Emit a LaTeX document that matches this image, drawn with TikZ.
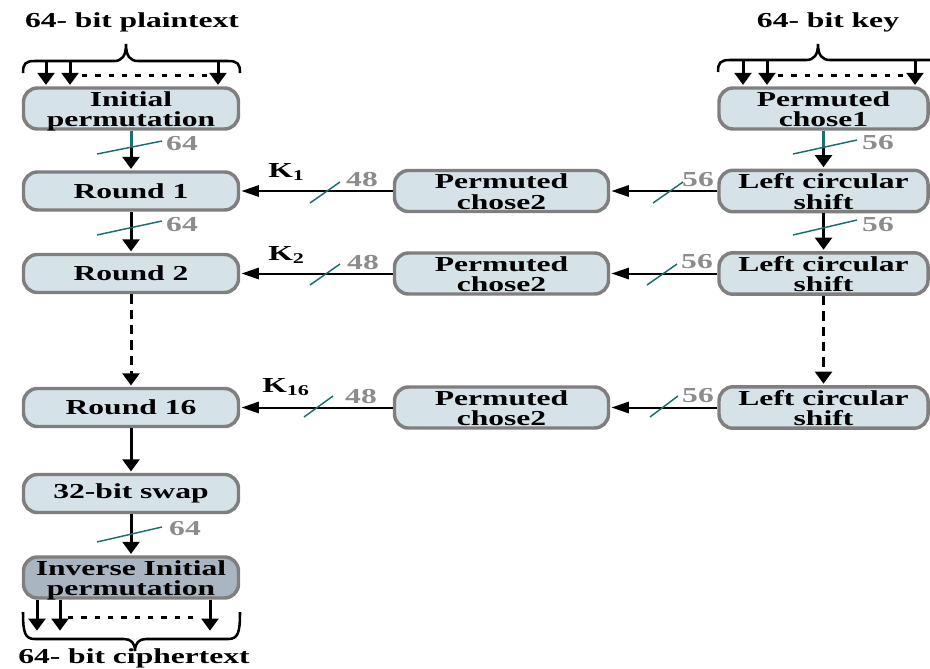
\documentclass[tikz,border=0pt]{standalone}
\usepackage{fontspec}
\setmainfont{Liberation Serif}
\usepackage{graphicx}
\usetikzlibrary{arrows.meta}
\definecolor{boxfill}{HTML}{D5E2E8}
\definecolor{boxfilldark}{HTML}{A9B5C0}
\definecolor{boxline}{HTML}{7F7F7F}
\definecolor{numgray}{HTML}{8C8C8C}
\definecolor{tealline}{HTML}{1A6E6E}
\newcommand\bfnt{\fontsize{16}{14.25}\selectfont\bfseries}
\newcommand\sx[1]{\scalebox{1.48}[1]{#1}}
\newcommand\two[2]{\raisebox{-2.5pt}[\height][\depth]{\sx{\begin{tabular}{@{}c@{}}#1\\#2\end{tabular}}}}
\tikzset{
  box/.style={draw=boxline, line width=2.6pt, rounded corners=10.5pt, fill=boxfill,
    minimum height=28.5pt, inner sep=0pt, font=\bfnt, text=black},
  lbox/.style={box, minimum width=161.25pt},
  mbox/.style={box, minimum width=160.5pt},
  rbox/.style={box, minimum width=156.75pt},
  vconn/.style={line width=2.25pt, -{Triangle[length=9pt,width=12.5pt]}, shorten >=1pt},
  vdash/.style={vconn, dash pattern=on 7pt off 4.5pt},
  hconn/.style={line width=1.5pt, -{Triangle[length=13pt,width=8.5pt]}, shorten >=1pt},
  brace/.style={line width=1.9pt},
  dots/.style={line width=2.25pt, dash pattern=on 4pt off 6pt},
  slash/.style={draw=tealline, line width=1.1pt},
  num/.style={font=\bfnt, text=numgray, inner sep=0pt},
  klab/.style={font=\bfnt, inner sep=0pt, anchor=base west},
  title/.style={font=\bfnt, inner sep=0pt, anchor=base},
}
\begin{document}
\begin{tikzpicture}[x=0.75pt,y=-0.75pt]
\useasboundingbox (0,0) rectangle (930,668);

% titles
\node[title] (tpt) at (132,27) {\sx{64- bit plaintext}};
\node[title] (tkey) at (828,27) {\sx{64- bit key}};
\node[title] (tct) at (134,663) {\sx{64- bit ciphertext}};

% left column
\node[lbox] (ip) at (131,108.5) {\two{Initial}{permutation}};
\node[lbox] (r1) at (131,191) {\sx{Round 1}};
\node[lbox] (r2) at (131,273.5) {\sx{Round 2}};
\node[lbox] (r16) at (131,407.5) {\sx{Round 16}};
\node[lbox] (sw) at (131,493.5) {\sx{32-bit swap}};
\node[lbox, fill=boxfilldark] (iip) at (131,577.5) {\two{Inverse Initial}{permutation}};

% middle column
\node[mbox] (p1) at (501.5,191) {\two{Permuted}{chose2}};
\node[mbox] (p2) at (501.5,273.5) {\two{Permuted}{chose2}};
\node[mbox] (p16) at (501.5,407.5) {\two{Permuted}{chose2}};

% right column
\node[rbox] (pc1) at (823.5,108.5) {\two{Permuted}{chose1}};
\node[rbox] (l1) at (823.5,191) {\two{Left circular}{shift}};
\node[rbox] (l2) at (823.5,273.5) {\two{Left circular}{shift}};
\node[rbox] (l16) at (823.5,407.5) {\two{Left circular}{shift}};

% top-left brace and input arrows
\draw[brace] (23,73) .. controls (23,64) and (25,61) .. (35,61) -- (114,61)
  .. controls (122,61) and (126,56) .. (126,44)
  .. controls (126,56) and (130,61) .. (138,61) -- (228,61)
  .. controls (238,61) and (240,64) .. (240,73);
\coordinate (ta1) at (46,61);
\coordinate (ta2) at (70,61);
\coordinate (ta3) at (218,61);
\draw[vconn] (ta1) -- (ta1 |- ip.north);
\draw[vconn] (ta2) -- (ta2 |- ip.north);
\draw[vconn] (ta3) -- (ta3 |- ip.north);
\coordinate (td1) at (82,75);
\coordinate (td2) at (210,75);
\draw[dots] (td1) -- (td2);

% top-right brace and input arrows
\draw[brace] (718,72) .. controls (718,63) and (720,60) .. (730,60) -- (806,60)
  .. controls (814,60) and (818,55) .. (818,44)
  .. controls (818,55) and (822,60) .. (830,60) -- (930,60)
  .. controls (940,60) and (942,63) .. (942,72);
\coordinate (ka1) at (743,60);
\coordinate (ka2) at (767,60);
\coordinate (ka3) at (915,60);
\draw[vconn] (ka1) -- (ka1 |- pc1.north);
\draw[vconn] (ka2) -- (ka2 |- pc1.north);
\draw[vconn] (ka3) -- (ka3 |- pc1.north);
\coordinate (kd1) at (778,75);
\coordinate (kd2) at (905,75);
\draw[dots] (kd1) -- (kd2);

% bottom brace and output arrows
\coordinate (ba1) at (37,632);
\coordinate (ba2) at (60,632);
\coordinate (ba3) at (210,632);
\draw[vconn] (ba1 |- iip.south) -- (ba1);
\draw[vconn] (ba2 |- iip.south) -- (ba2);
\draw[vconn] (ba3 |- iip.south) -- (ba3);
\coordinate (bd1) at (68,617);
\coordinate (bd2) at (198,617);
\draw[dots] (bd1) -- (bd2);
\draw[brace] (23,612) .. controls (23,633) and (25,639) .. (35,639) -- (124,639)
  .. controls (131,639) and (135,643) .. (135,651)
  .. controls (135,643) and (139,639) .. (146,639) -- (228,639)
  .. controls (238,639) and (240,633) .. (240,612);

% left vertical connectors
\draw[vconn] (ip) -- (r1);
\coordinate (tl1) at (131,147);
\draw[draw=tealline, line width=2.25pt] (ip.south) -- (tl1);
\draw[vconn] (r1) -- (r2);
\draw[vdash] (r2) -- (r16);
\draw[vconn] (r16) -- (sw);
\draw[vconn] (sw) -- (iip);

% right vertical connectors
\draw[vconn] (pc1) -- (l1);
\coordinate (tr1) at (823.5,147);
\draw[draw=tealline, line width=2.25pt] (pc1.south) -- (tr1);
\draw[vconn] (l1) -- (l2);
\draw[vdash] (l2) -- (l16);

% horizontal connectors
\draw[hconn] (p1) -- (r1);
\draw[hconn] (p2) -- (r2);
\draw[hconn] (p16) -- (r16);
\draw[hconn] (l1) -- (p1);
\draw[hconn] (l2) -- (p2);
\draw[hconn] (l16) -- (p16);

% slash marks and bit counts
\draw[slash] (97,154) -- (162,141);
\node[num] (n64a) at (182,144) {\sx{64}};
\draw[slash] (97,235) -- (162,221);
\node[num] (n64b) at (182,225) {\sx{64}};
\draw[slash] (97,542) -- (162,527);
\node[num] (n64c) at (185,529) {\sx{64}};

\draw[slash] (793,154) -- (857,140);
\node[num] (n56a) at (878,143) {\sx{56}};
\draw[slash] (793,235) -- (857,220);
\node[num] (n56b) at (878,225) {\sx{56}};

\draw[slash] (310,203) -- (340,182);
\node[num] (n48a) at (362,180) {\sx{48}};
\draw[slash] (653,203) -- (683,182);
\node[num] (n56c) at (698,180) {\sx{56}};

\draw[slash] (310,285) -- (340,264);
\node[num] (n48b) at (363,263) {\sx{48}};
\draw[slash] (647,285) -- (677,264);
\node[num] (n56d) at (697,262) {\sx{56}};

\draw[slash] (304,417) -- (333,396);
\node[num] (n48c) at (361,396) {\sx{48}};
\draw[slash] (650,417) -- (678,396);
\node[num] (n56e) at (698,396) {\sx{56}};

% key labels
\node[klab] (k1) at (268,177) {\sx{K\textsubscript{1}}};
\node[klab] (k2) at (268,260) {\sx{K\textsubscript{2}}};
\node[klab] (k16) at (262,392) {\sx{K\textsubscript{16}}};
\end{tikzpicture}
\end{document}
